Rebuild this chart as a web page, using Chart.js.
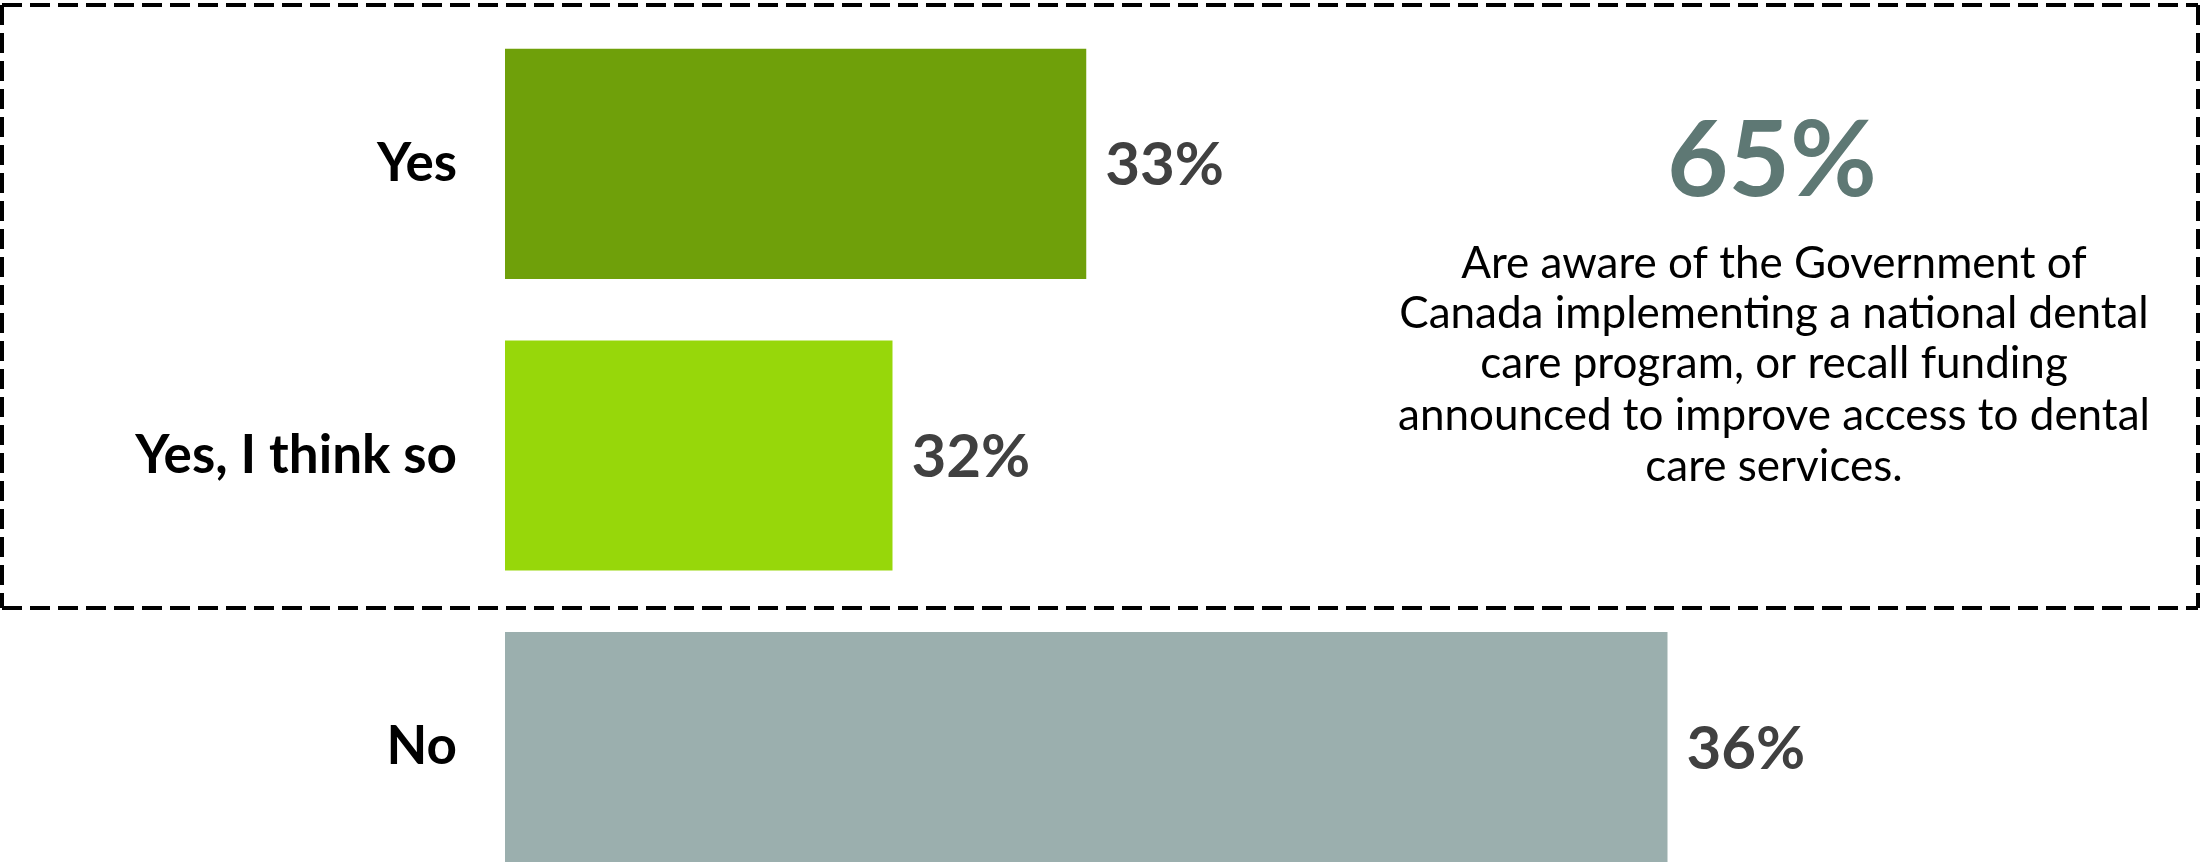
<!DOCTYPE html>
<html>
<head>
<meta charset="utf-8">
<script src="https://cdn.jsdelivr.net/npm/chart.js@4"></script>
<style>
  html, body { margin: 0; padding: 0; background: #ffffff; overflow: hidden; }
  #wrap { position: absolute; left: 0; top: 0; width: 2202px; height: 900px; }
</style>
</head>
<body>
<div id="wrap"><canvas id="c"></canvas></div>
<script>
// ---- data ----
const categories = ["Yes", "Yes, I think so", "No"];
const values = [33, 32, 36];
const valueLabels = ["33%", "32%", "36%"];
const barColors = ["#6FA00A", "#97D70A", "#9BAFAE"];
const calloutValue = "65%";
const calloutLines = [
  "Are aware of the Government of",
  "Canada implementing a national dental",
  "care program, or recall funding",
  "announced to improve access to dental",
  "care services."
];

const FONT = "Lato, 'Open Sans', sans-serif";

const valueLabelPlugin = {
  id: 'valueLabels',
  afterDatasetsDraw(chart) {
    const ctx = chart.ctx;
    const meta = chart.getDatasetMeta(0);
    ctx.save();
    ctx.font = "bold 60px " + FONT;
    ctx.fillStyle = "#404040";
    ctx.textAlign = "left";
    ctx.textBaseline = "middle";
    meta.data.forEach((bar, i) => {
      ctx.fillText(valueLabels[i], bar.x + 19, bar.y + 2);
    });
    ctx.restore();
  }
};

const decorPlugin = {
  id: 'decor',
  afterDraw(chart) {
    const ctx = chart.ctx;
    ctx.save();
    // dashed box
    ctx.strokeStyle = "#000000";
    ctx.lineWidth = 4;
    ctx.setLineDash([20, 8]);
    ctx.beginPath();
    ctx.moveTo(2, 5); ctx.lineTo(2198, 5);
    ctx.moveTo(2, 608); ctx.lineTo(2198, 608);
    ctx.moveTo(2, 5); ctx.lineTo(2, 608);
    ctx.moveTo(2198, 5); ctx.lineTo(2198, 608);
    ctx.stroke();
    ctx.setLineDash([]);
    // callout
    ctx.textAlign = "center";
    ctx.textBaseline = "alphabetic";
    ctx.fillStyle = "#5E7874";
    ctx.font = "bold 106px " + FONT;
    ctx.fillText(calloutValue, 1772, 196);
    ctx.fillStyle = "#000000";
    ctx.font = "44px " + FONT;
    const baselines = [278, 328, 378, 430, 481];
    calloutLines.forEach((t, i) => ctx.fillText(t, 1774, baselines[i]));
    ctx.restore();
  }
};

new Chart(document.getElementById('c'), {
  type: 'bar',
  data: {
    labels: categories,
    datasets: [{
      data: values,
      backgroundColor: barColors,
      borderWidth: 0,
      barPercentage: 0.789,
      categoryPercentage: 1.0,
      clip: 0
    }]
  },
  options: {
    indexAxis: 'y',
    responsive: true,
    maintainAspectRatio: false,
    animation: false,
    layout: { padding: { left: 0, right: 147, top: 18, bottom: 7 } },
    plugins: { legend: { display: false }, tooltip: { enabled: false } },
    scales: {
      x: {
        display: false,
        min: 30,
        max: 38
      },
      y: {
        grid: { display: false },
        border: { display: false },
        ticks: {
          color: "#000000",
          font: { family: FONT, size: 53, weight: 'bold' },
          padding: 40
        },
        afterFit(scale) {
          scale.width = 505;
          scale.paddingTop = 0;
          scale.paddingBottom = 0;
        }
      }
    }
  },
  plugins: [valueLabelPlugin, decorPlugin]
});
</script>
</body>
</html>
